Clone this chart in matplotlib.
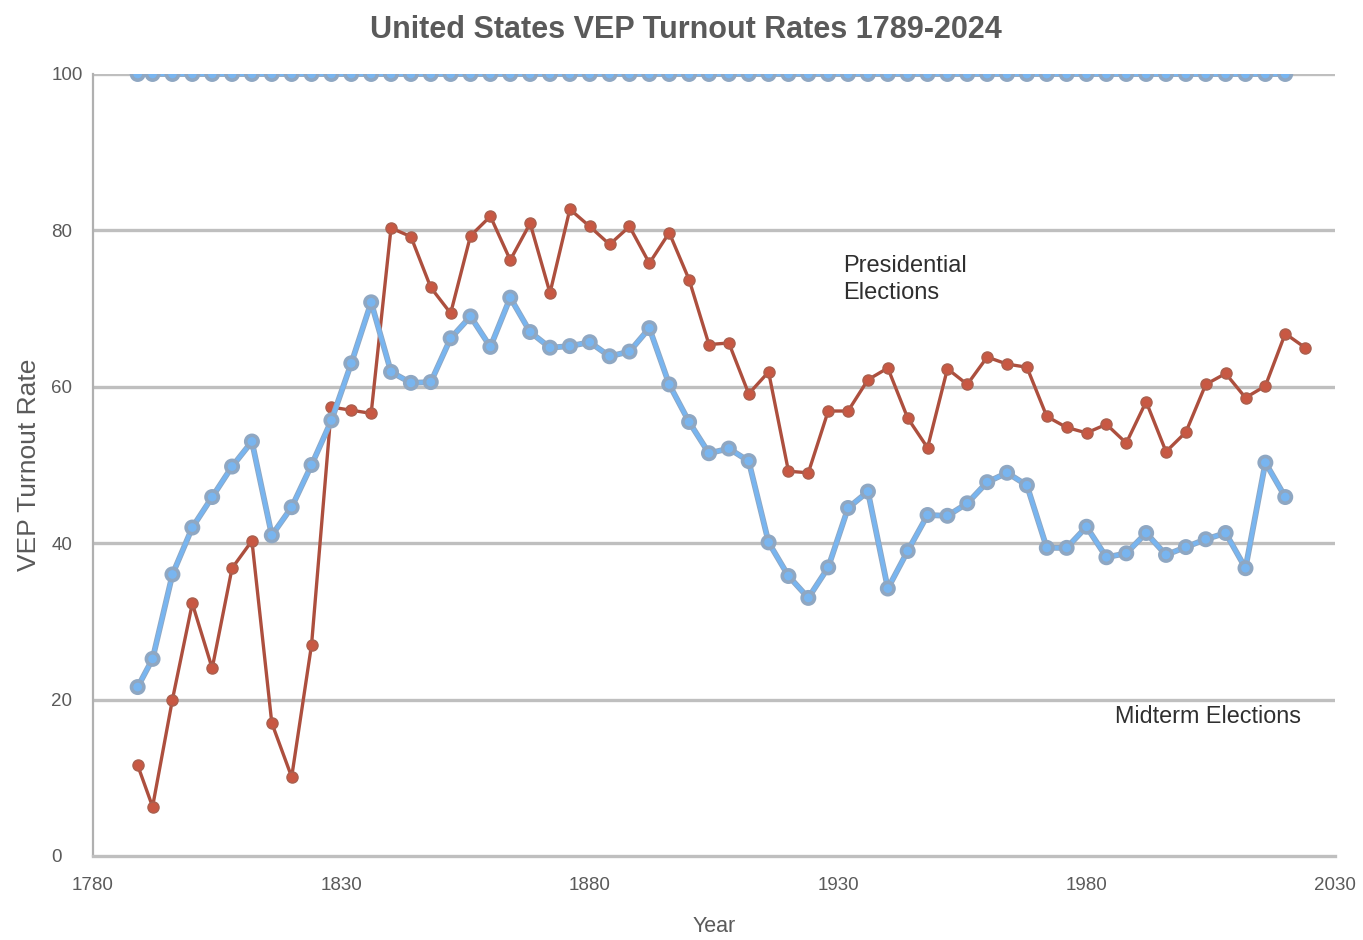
"""
Recreate the United States VEP turnout chart (1789-2024).
"""

import matplotlib
matplotlib.use("Agg")
import matplotlib.pyplot as plt
import matplotlib.patheffects as pe

# Election years on the x axis
years = [1789] + list(range(1792, 2025, 4))

# Red series (upper line after 1840)
red_values = [
    11.6, 6.3, 20.0, 32.3, 24.0, 36.8, 40.3, 17.0, 10.1, 27.0,
    57.4, 57.0, 56.6, 80.3, 79.2, 72.7, 69.4, 79.3, 81.8, 76.2,
    80.9, 72.0, 82.7, 80.5, 78.2, 80.5, 75.8, 79.7, 73.7, 65.4,
    65.6, 59.1, 61.9, 49.2, 49.0, 56.9, 56.9, 60.9, 62.4, 56.0,
    52.2, 62.3, 60.3, 63.8, 62.9, 62.5, 56.2, 54.8, 54.1, 55.2,
    52.8, 58.1, 51.7, 54.2, 60.3, 61.7, 58.6, 60.1, 66.8, 65.0,
]

# Blue series (lower line after 1840), one point shorter
blue_values = [
    21.6, 25.2, 36.0, 42.0, 45.9, 49.8, 53.0, 41.0, 44.6, 50.0,
    55.7, 63.0, 70.8, 61.9, 60.5, 60.6, 66.2, 69.0, 65.1, 71.4,
    67.0, 65.0, 65.2, 65.7, 63.9, 64.5, 67.5, 60.3, 55.5, 51.5,
    52.1, 50.5, 40.1, 35.8, 33.0, 36.9, 44.5, 46.6, 34.2, 39.0,
    43.6, 43.5, 45.1, 47.8, 49.0, 47.4, 39.4, 39.4, 42.1, 38.2,
    38.7, 41.3, 38.5, 39.5, 40.5, 41.3, 36.8, 50.3, 45.9,
]

# Stray series drawn flat along the 100 line
top_values = [100] * len(blue_values)

x_ticks = [1780, 1830, 1880, 1930, 1980, 2030]
y_ticks = [0, 20, 40, 60, 80, 100]

FONT = ["Liberation Sans", "DejaVu Sans"]

RED_LINE = "#ad4f3e"
RED_MARK = "#c85843"
BLUE_LINE = "#78b5f0"
BLUE_EDGE = "#8fa7c2"
GRID = "#bfbfbf"
TEXT_GRAY = "#5a5a5a"


def main():
    plt.rcParams["font.family"] = FONT

    fig = plt.figure(figsize=(13.63, 9.40), dpi=100)
    ax = fig.add_axes([0.0682, 0.0894, 0.9112, 0.8319])

    # Grid lines behind the data
    for y in y_ticks[1:]:
        ax.axhline(y, color=GRID, lw=2.4, zorder=1)

    # Red line
    ax.plot(years, red_values, color=RED_LINE, lw=2.4, marker="o",
            markersize=8.0, markerfacecolor=RED_MARK,
            markeredgecolor="#a9604f", markeredgewidth=1.0, zorder=3)

    # Blue lines with a soft gray outline
    outline = [pe.Stroke(linewidth=4.2, foreground=BLUE_EDGE), pe.Normal()]
    for vals in (blue_values, top_values):
        ax.plot(years[:len(vals)], vals, color=BLUE_LINE, lw=2.9, marker="o",
                markersize=7.3, markerfacecolor=BLUE_LINE,
                markeredgecolor=BLUE_EDGE, markeredgewidth=1.0,
                path_effects=outline, zorder=4)

    ax.set_xlim(1780, 2030)
    ax.set_ylim(0, 100)
    ax.set_xticks(x_ticks)
    ax.set_yticks(y_ticks)

    for side in ("top", "right"):
        ax.spines[side].set_visible(False)
    ax.spines["left"].set_color("#b0b0b0")
    ax.spines["left"].set_linewidth(1.6)
    ax.spines["bottom"].set_color(GRID)
    ax.spines["bottom"].set_linewidth(2.4)

    ax.tick_params(axis="both", length=0, colors=TEXT_GRAY, labelsize=13.5)
    ax.tick_params(axis="x", pad=15)
    ax.tick_params(axis="y", pad=30)
    for lab in ax.get_yticklabels():
        lab.set_horizontalalignment("left")

    ax.set_xlabel("Year", fontsize=15.5, color=TEXT_GRAY, labelpad=16)
    ax.set_ylabel("VEP Turnout Rate", fontsize=19, color=TEXT_GRAY)
    ax.yaxis.set_label_coords(-0.042, 0.5)

    fig.suptitle("United States VEP Turnout Rates 1789-2024",
                 fontweight="bold", fontsize=22, color=TEXT_GRAY, y=0.984,
                 x=0.503)

    ax.text(1931.0, 73.7, "Presidential\nElections", fontsize=17,
            color="#2f2f2f", ha="left", va="center", linespacing=1.3)
    ax.text(1985.7, 17.8, "Midterm Elections", fontsize=16.8,
            color="#2f2f2f", ha="left", va="center")

    fig.savefig("out.png", dpi=100)


if __name__ == "__main__":
    main()
